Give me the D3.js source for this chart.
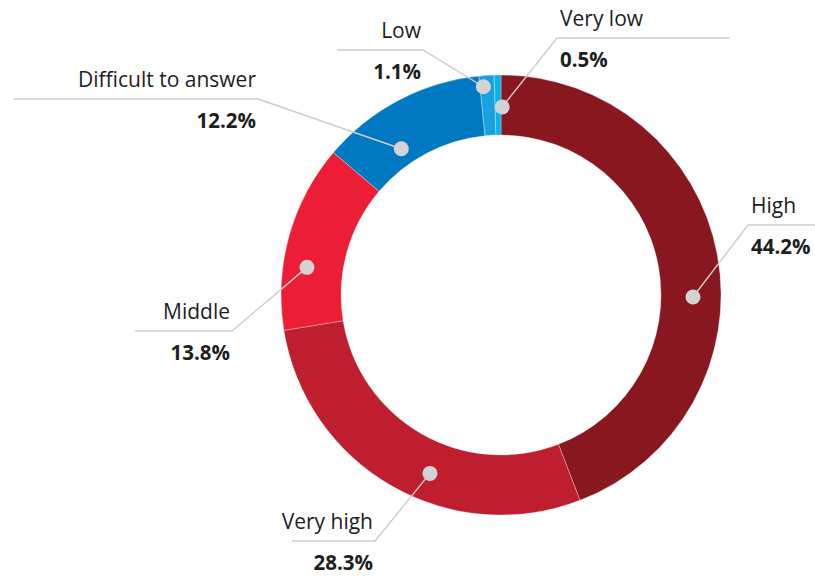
<!DOCTYPE html>
<html>
<head>
<meta charset="utf-8">
<script src="https://cdn.jsdelivr.net/npm/d3@7/dist/d3.min.js"></script>
<style>
  html, body { margin: 0; padding: 0; background: #fff; }
  svg { display: block; }
  .lbl { font-family: "Open Sans", Roboto, sans-serif; fill: #1e1e1e; }
</style>
</head>
<body>
<svg id="chart" width="815" height="577"></svg>
<script>
// Survey answer shares, clockwise from 12 o'clock
const categories = ["High", "Very high", "Middle", "Difficult to answer", "Low", "Very low"];
const shares = [44.2, 28.3, 13.8, 12.2, 1.1, 0.5];
const valueLabels = ["44.2%", "28.3%", "13.8%", "12.2%", "1.1%", "0.5%"];
const colors = ["#88171f", "#be1e2d", "#ec1d34", "#0079c2", "#17a2df", "#05b4ef"];

// Callout layout: where the dot sits inside its slice (fraction of the slice's sweep, radius),
// the elbow of the leader line, the far end of the horizontal rule and text alignment.
const callouts = [
  { frac: 0.57, r: 192, elbow: [748, 225], end: 815, side: "right" },
  { frac: 0.42, r: 192, elbow: [375, 541], end: 292, side: "left" },
  { frac: 0.35, r: 196, elbow: [232, 331], end: 135, side: "left" },
  { frac: 0.35, r: 177, elbow: [258, 99],  end: 13,  side: "left" },
  { frac: 0.23, r: 209, elbow: [423, 50],  end: 337, side: "left" },
  { frac: 1.20, r: 188, elbow: [557, 38],  end: 730, side: "right" }
];

const cx = 501, cy = 295, outerR = 220, innerR = 160;

const svg = d3.select("#chart");
const g = svg.append("g").attr("transform", `translate(${cx},${cy})`);

const data = categories.map((c, i) => ({ cat: c, value: shares[i], label: valueLabels[i], color: colors[i], co: callouts[i] }));

const pie = d3.pie().sort(null).value(d => d.value).startAngle(0).endAngle(2 * Math.PI);
const arcs = pie(data);
const arc = d3.arc().innerRadius(innerR).outerRadius(outerR);

g.selectAll("path.slice")
  .data(arcs)
  .join("path")
  .attr("class", "slice")
  .attr("d", arc)
  .attr("fill", d => d.data.color)
  .attr("stroke", "#ffffff")
  .attr("stroke-width", 0.6)
  .attr("stroke-opacity", 0.5);

// Callouts: dot, leader line, horizontal rule, category name and share
const callG = svg.append("g");
arcs.forEach(a => {
  const co = a.data.co;
  const ang = a.startAngle + (a.endAngle - a.startAngle) * co.frac;
  const dx = cx + co.r * Math.sin(ang);
  const dy = cy - co.r * Math.cos(ang);
  const [ex, ey] = co.elbow;

  callG.append("polyline")
    .attr("points", `${dx},${dy} ${ex},${ey} ${co.end},${ey}`)
    .attr("fill", "none")
    .attr("stroke", "#cdcdcf")
    .attr("stroke-width", 1.4);

  callG.append("circle")
    .attr("cx", dx).attr("cy", dy).attr("r", 7.5)
    .attr("fill", "#d3d3d6");

  const right = co.side === "right";
  const tx = right ? ex + 3 : ex - 2;
  const anchor = right ? "start" : "end";

  callG.append("text")
    .attr("class", "lbl")
    .attr("x", tx).attr("y", ey - 12)
    .attr("text-anchor", anchor)
    .attr("font-size", 21)
    .attr("font-weight", 400)
    .text(a.data.cat);

  callG.append("text")
    .attr("class", "lbl")
    .attr("x", tx).attr("y", ey + 29)
    .attr("text-anchor", anchor)
    .attr("font-size", 20.5)
    .attr("font-weight", 700)
    .text(a.data.label);
});
</script>
</body>
</html>
